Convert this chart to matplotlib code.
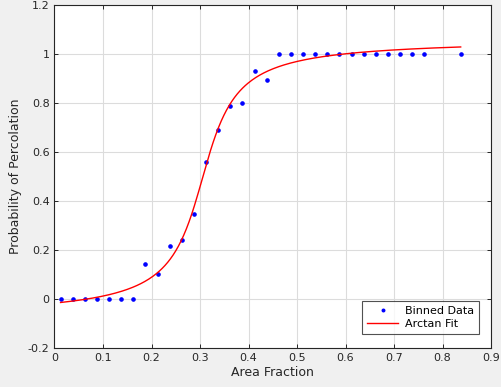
import numpy as np
import matplotlib
matplotlib.use("Agg")
from matplotlib import pyplot as plt

# binned data (bin centres, fraction percolating)
area = [0.0125, 0.0375, 0.0625, 0.0875, 0.1125, 0.1375, 0.1625, 0.1875,
        0.2125, 0.2375, 0.2625, 0.2875, 0.3125, 0.3375, 0.3625, 0.3875,
        0.4125, 0.4375, 0.4625, 0.4875, 0.5125, 0.5375, 0.5625, 0.5875,
        0.6125, 0.6375, 0.6625, 0.6875, 0.7125, 0.7375, 0.7625, 0.8375]
prob = [0, 0, 0, 0, 0, 0, 0, 0.143,
        0.103, 0.216, 0.241, 0.348, 0.558, 0.689, 0.789, 0.801,
        0.929, 0.895, 1, 1, 1, 1, 1, 1,
        1, 1, 1, 1, 1, 1, 1, 1]

# arctan fit  y = d + a*atan(b*(x - c))
fit_a = 0.3635
fit_b = 19.3
fit_c = 0.305
fit_d = 0.493

xfit = np.linspace(area[0], area[-1], 300)
yfit = fit_d + fit_a * np.arctan(fit_b * (xfit - fit_c))

plt.rcParams['font.family'] = ['DejaVu Sans']
fig = plt.figure(figsize=(5.02, 3.87), dpi=100, facecolor='#f0f0f0')
ax = fig.add_axes([54.5/502, 1 - 348/387, (491 - 54.5)/502, (348 - 5)/387])

ax.plot(area, prob, 'o', color='blue', markersize=2.3, label='Binned Data')
ax.plot(xfit, yfit, '-', color='red', linewidth=1.0, label='Arctan Fit')

ax.set_xlim(0, 0.9)
ax.set_ylim(-0.2, 1.2)
ax.set_xticks(np.arange(0, 0.91, 0.1))
ax.set_yticks(np.arange(-0.2, 1.21, 0.2))
ax.set_xticklabels(['0', '0.1', '0.2', '0.3', '0.4', '0.5', '0.6', '0.7', '0.8', '0.9'])
ax.set_yticklabels(['-0.2', '0', '0.2', '0.4', '0.6', '0.8', '1', '1.2'])
ax.grid(True, color='#dcdcdc', linewidth=0.8)
ax.set_axisbelow(True)
ax.tick_params(direction='in', length=3, width=0.7, labelsize=8,
               colors='#262626', top=True, right=True, labeltop=False, labelright=False)
for s in ax.spines.values():
    s.set_color('#262626')
    s.set_linewidth(0.8)

ax.set_xlabel('Area Fraction', fontsize=9, color='#262626', labelpad=2)
ax.set_ylabel('Probability of Percolation', fontsize=9, color='#262626', labelpad=4)

leg = ax.legend(loc='lower right', fontsize=8, frameon=True, fancybox=False,
                edgecolor='#262626', borderpad=0.45, labelspacing=0.3,
                handlelength=2.8, handletextpad=0.6, markerscale=0.8,
                bbox_to_anchor=(0.9725, 0.04), borderaxespad=0)
leg.get_frame().set_linewidth(0.8)

fig.savefig('out.png', dpi=100, facecolor=fig.get_facecolor())
